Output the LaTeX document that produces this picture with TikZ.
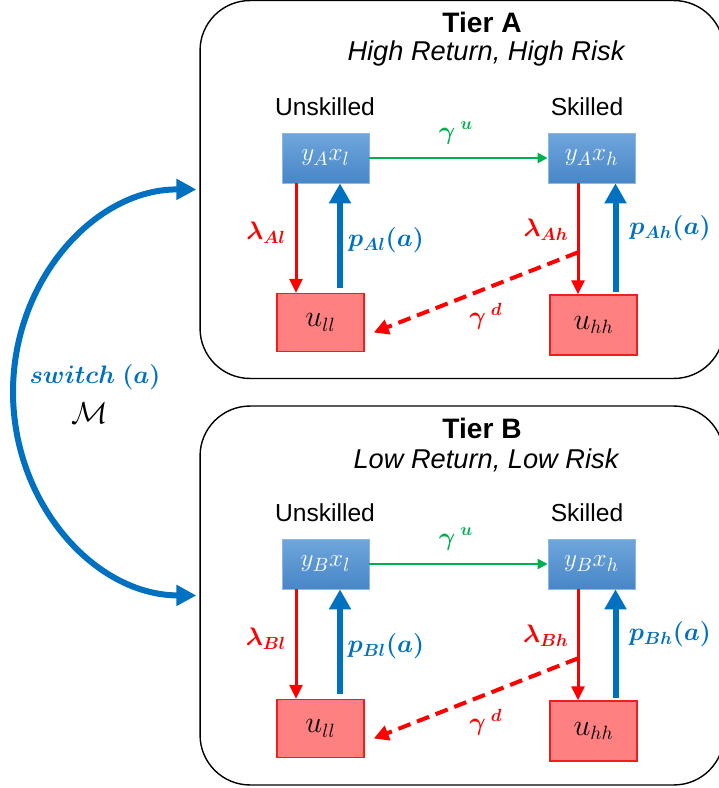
\documentclass[tikz,border=0pt]{standalone}
\usepackage{fontspec}
\setsansfont{Liberation Sans}
\usepackage{amsmath}
\usepackage{bm}
\usetikzlibrary{positioning}
\usetikzlibrary{calc}
\usetikzlibrary{arrows.meta}
\definecolor{skyblue}{RGB}{111,166,220}
\definecolor{deepblue}{RGB}{72,134,199}
\definecolor{arrblue}{RGB}{0,112,192}
\definecolor{arrgreen}{RGB}{0,176,80}
\definecolor{pinkred}{RGB}{255,128,128}
\definecolor{edgered}{RGB}{240,30,30}

\begin{document}
\begin{tikzpicture}[x=0.02cm, y=-0.02cm,
	tierbox/.style={draw=black, line width=0.8pt, rounded corners=1cm},
	empnode/.style={rectangle, top color=skyblue, bottom color=deepblue, draw=skyblue!80, minimum width=1.74cm, minimum height=1cm, text=white, font=\fontsize{15.5}{17}\selectfont},
	unnode/.style={rectangle, fill=pinkred, draw=edgered, line width=0.8pt, minimum width=1.74cm, minimum height=1.16cm, font=\fontsize{16}{18}\selectfont},
	toptext/.style={font=\sffamily\bfseries\fontsize{16}{18}\selectfont},
	subtext/.style={font=\sffamily\itshape\fontsize{15.5}{18}\selectfont},
	skilltext/.style={font=\sffamily\fontsize{14}{16}\selectfont},
	ratelab/.style={font=\fontsize{14.5}{17}\selectfont},
	uparr/.style={arrblue, line width=0.12cm, -{Triangle[width=0.42cm,length=0.4cm]}},
	downarr/.style={red, line width=0.06cm, -{Triangle[width=0.26cm,length=0.28cm]}},
	skillarr/.style={arrgreen, line width=0.045cm, -{Triangle[width=0.2cm,length=0.2cm]}},
	droparr/.style={red, line width=0.08cm, dash pattern=on 0.26cm off 0.14cm, -{Triangle[width=0.3cm,length=0.3cm]}},
	switcharr/.style={arrblue, line width=0.12cm, {Triangle[width=0.4cm,length=0.4cm]}-{Triangle[width=0.4cm,length=0.4cm]}}]
	\useasboundingbox (0,0) rectangle (719,788);
	% \draw[help lines] (0,0) grid (719,788);

	% Tier A
	\node[tierbox, minimum width=10.48cm, minimum height=7.56cm](tA) at (462,189.5){};
	\node[toptext](tAlab) at (482,22){Tier A};
	\node[subtext](tAsub) at (486,53){High Return, High Risk};
	\node[skilltext](uAlab) at (325,107){Unskilled};
	\node[skilltext](sAlab) at (587,107){Skilled};
	\node[empnode](Al) at (325.5,158){$y_Ax_l$};
	\node[empnode](Ah) at (591.5,158){$y_Ax_h$};
	\node[unnode](Aul) at (320.5,322.5){$u_{ll}$};
	\node[unnode, minimum height=1.2cm](Auh) at (593.5,325){$u_{hh}$};
	\draw[skillarr] (Al.east) -- (Ah.west);
	\draw[downarr] ([xshift=-.59cm]Al.south) -- ([xshift=-.59cm]Al.south |- Aul.north);
	\draw[uparr] ([xshift=.29cm,yshift=.1cm]Al.south |- Aul.north) -- ([xshift=.29cm]Al.south);
	\draw[downarr] ([xshift=-.27cm]Ah.south) -- ([xshift=-.27cm]Ah.south |- Auh.north);
	\draw[uparr] ([xshift=.48cm,yshift=.04cm]Ah.south |- Auh.north) -- ([xshift=.48cm]Ah.south);
	\coordinate (dA) at ([xshift=-.27cm,yshift=-1.38cm]Ah.south);
	\draw[droparr] (dA) -- ([xshift=.18cm,yshift=-.2cm]Aul.east);
	\node[ratelab, text=arrgreen](guA) at (456,133){$\bm{\gamma}^{\;\bm{u}}$};
	\node[ratelab, text=red](lAl) at (266,233){$\bm{\lambda_{Al}}$};
	\node[ratelab, text=arrblue](pAl) at (386,240){$\bm{p_{Al}(a)}$};
	\node[ratelab, text=red](lAh) at (546,230){$\bm{\lambda_{Ah}}$};
	\node[ratelab, text=arrblue](pAh) at (670,228){$\bm{p_{Ah}(a)}$};
	\node[ratelab, text=red](gdA) at (486,316){$\bm{\gamma}^{\;\bm{d}}$};

	% Tier B
	\node[tierbox, minimum width=10.48cm, minimum height=7.58cm](tB) at (462,595.5){};
	\node[toptext](tBlab) at (482,428){Tier B};
	\node[subtext](tBsub) at (486,460){Low Return, Low Risk};
	\node[skilltext](uBlab) at (325,513){Unskilled};
	\node[skilltext](sBlab) at (587,513){Skilled};
	\node[empnode](Bl) at (325.5,564){$y_Bx_l$};
	\node[empnode](Bh) at (591.5,564){$y_Bx_h$};
	\node[unnode](Bul) at (320.5,728.5){$u_{ll}$};
	\node[unnode, minimum height=1.2cm](Buh) at (593.5,731){$u_{hh}$};
	\draw[skillarr] (Bl.east) -- (Bh.west);
	\draw[downarr] ([xshift=-.59cm]Bl.south) -- ([xshift=-.59cm]Bl.south |- Bul.north);
	\draw[uparr] ([xshift=.29cm,yshift=.1cm]Bl.south |- Bul.north) -- ([xshift=.29cm]Bl.south);
	\draw[downarr] ([xshift=-.27cm]Bh.south) -- ([xshift=-.27cm]Bh.south |- Buh.north);
	\draw[uparr] ([xshift=.48cm,yshift=.04cm]Bh.south |- Buh.north) -- ([xshift=.48cm]Bh.south);
	\coordinate (dB) at ([xshift=-.27cm,yshift=-1.38cm]Bh.south);
	\draw[droparr] (dB) -- ([xshift=.18cm,yshift=-.2cm]Bul.east);
	\node[ratelab, text=arrgreen](guB) at (456,539){$\bm{\gamma}^{\;\bm{u}}$};
	\node[ratelab, text=red](lBl) at (266,639){$\bm{\lambda_{Bl}}$};
	\node[ratelab, text=arrblue](pBl) at (386,646){$\bm{p_{Bl}(a)}$};
	\node[ratelab, text=red](lBh) at (546,636){$\bm{\lambda_{Bh}}$};
	\node[ratelab, text=arrblue](pBh) at (670,634){$\bm{p_{Bh}(a)}$};
	\node[ratelab, text=red](gdB) at (486,722){$\bm{\gamma}^{\;\bm{d}}$};

	% switching between tiers
	\draw[switcharr] ([xshift=-.06cm]tA.west) .. controls (95,189) and (13,280) .. (13,392) .. controls (13,504) and (95,595) .. ([xshift=-.06cm]tB.west);
	\node[ratelab, text=arrblue, font=\fontsize{13.5}{16}\selectfont](swlab) at (95,377){$\bm{switch\;(a)}$};
	\node[ratelab, font=\fontsize{16}{18}\selectfont](mlab) at (90,413){$\mathcal{M}$};
\end{tikzpicture}
\end{document}
